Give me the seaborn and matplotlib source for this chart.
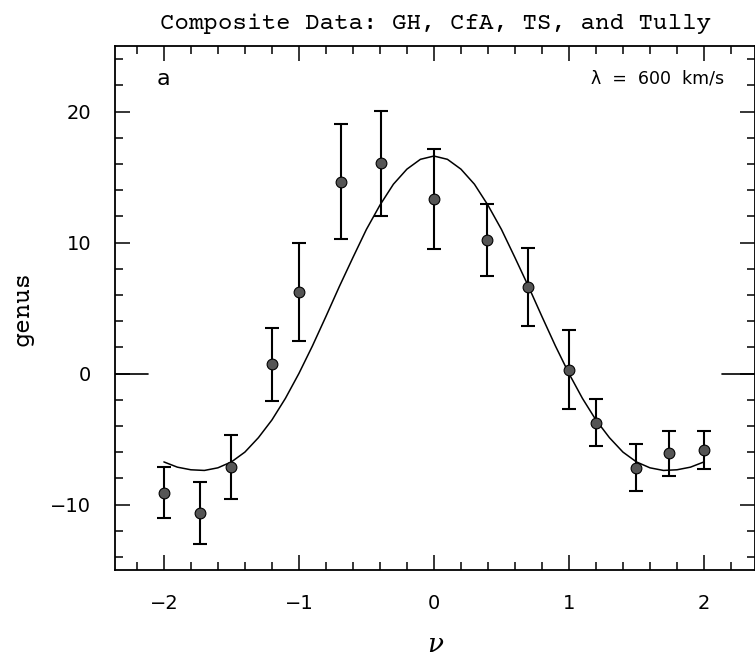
import matplotlib
matplotlib.use("Agg")
import matplotlib.pyplot as plt
import seaborn as sns
import numpy as np
import pandas as pd

# ---- data ----
nu = [-2.0, -1.73, -1.5, -1.2, -1.0, -0.69, -0.39, 0.0, 0.39, 0.70, 1.0, 1.2, 1.5, 1.74, 2.0]
genus = [-9.1, -10.65, -7.15, 0.7, 6.2, 14.65, 16.05, 13.3, 10.2, 6.6, 0.3, -3.75, -7.2, -6.1, -5.85]
genus_err = [1.95, 2.35, 2.45, 2.8, 3.75, 4.4, 4.0, 3.8, 2.75, 3.0, 3.0, 1.8, 1.8, 1.7, 1.45]

curve_genus = [-6.75, -7.15, -7.35, -7.4, -7.2, -6.75, -6.0, -4.9, -3.55, -1.9,
               0.0, 2.1, 4.35, 6.65, 8.85, 11.0, 12.85, 14.45, 15.6, 16.35,
               16.6,
               16.35, 15.6, 14.45, 12.85, 11.0, 8.85, 6.65, 4.35, 2.1, 0.0,
               -1.9, -3.55, -4.9, -6.0, -6.75, -7.2, -7.4, -7.35, -7.15, -6.75]
curve_nu = np.linspace(-2.0, 2.0, len(curve_genus))

x_ticks = [-2, -1, 0, 1, 2]
y_ticks = [-10, 0, 10, 20]

title = "Composite Data: GH, CfA, TS, and Tully"
panel_label = "a"
scale_label = "λ  =  600  km/s"

pts = pd.DataFrame({"nu": nu, "genus": genus, "err": genus_err})
crv = pd.DataFrame({"nu": curve_nu, "genus": curve_genus})

sns.set_theme(style="white")
plt.rcParams["font.family"] = ["DejaVu Sans"]
plt.rcParams["text.color"] = "black"
plt.rcParams["axes.labelcolor"] = "black"
plt.rcParams["xtick.color"] = "black"
plt.rcParams["ytick.color"] = "black"

typewriter = ["Courier Prime", "Cutive Mono", "DejaVu Serif"]

fig = plt.figure(figsize=(7.55, 6.61), dpi=100)
ax = fig.add_axes([115/755, 1 - 570/661, 1 - 115/755, (570 - 46)/661])

sns.lineplot(data=crv, x="nu", y="genus", ax=ax, color="black", linewidth=1.1,
             sort=False, legend=False)
ax.errorbar(pts["nu"], pts["genus"], yerr=pts["err"], fmt="none",
            ecolor="black", elinewidth=1.5, capsize=5, capthick=1.5, zorder=3)
sns.scatterplot(data=pts, x="nu", y="genus", ax=ax, color="#555555",
                edgecolor="black", linewidth=0.8, s=60, zorder=4, legend=False)

ax.set_xlim(-2.362, 2.378)
ax.set_ylim(-15, 25)
ax.set_xticks(x_ticks)
ax.set_yticks(y_ticks)
ax.set_xticks(np.arange(-2.2, 2.4, 0.2), minor=True)
ax.set_yticks(np.arange(-14, 25, 2), minor=True)
ax.set_xticklabels([f"{v:d}".replace("-", "\u2212") for v in x_ticks])
ax.set_yticklabels([f"{v:d}".replace("-", "\u2212") for v in y_ticks])

ax.tick_params(which="both", direction="in", top=True, right=True,
               bottom=True, left=True, color="black", width=1.1)
ax.tick_params(which="major", length=11, labelsize=14, pad=17)
ax.tick_params(which="minor", length=5.5)
for sp in ax.spines.values():
    sp.set_color("black")
    sp.set_linewidth(1.3)

# long zero markers at both sides
ax.axhline(0, xmin=0, xmax=33/640, color="black", linewidth=1.2)
ax.axhline(0, xmin=1 - 33/640, xmax=1, color="black", linewidth=1.2)

ax.set_xlabel("ν", fontsize=19, family="DejaVu Serif", style="italic", labelpad=14)
ax.set_ylabel("genus", fontsize=18, family=typewriter, labelpad=12)
ax.set_title(title, fontsize=17.4, family=typewriter, pad=12)

ax.text(-2.0, 22.5, panel_label, fontsize=16, ha="center", va="center")
ax.text(2.15, 22.5, scale_label, fontsize=12.5, ha="right", va="center")

fig.savefig("out.png", dpi=100)
